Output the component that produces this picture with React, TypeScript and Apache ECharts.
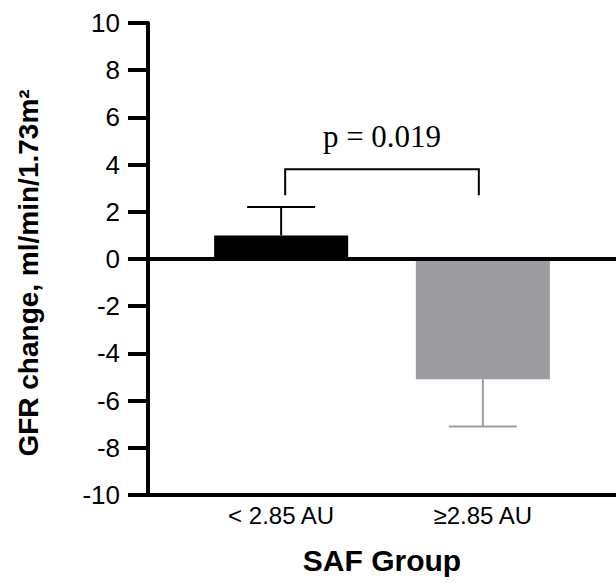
import React, { useEffect, useRef } from "react";
import * as echarts from "echarts";

const categories = ["< 2.85 AU", "≥2.85 AU"];
const means = [1.0, -5.1];
const errors = [1.2, 2.0];
const barColors = ["#000000", "#9d9ca1"];
const bracketX = [1.02, 1.98];
const bracketY = [2.7, 3.8];
const pLabel = "p = 0.019";
const pLabelY = 5.2;
const yTitle = "GFR change, ml/min/1.73m²";
const xTitle = "SAF Group";

export default function App() {
  const ref = useRef<HTMLDivElement>(null);
  useEffect(() => {
    const chart = echarts.init(ref.current!, null, { renderer: "svg" });
    const font = "'Liberation Sans', Arial, sans-serif";
    const option: any = {
      animation: false,
      backgroundColor: "#ffffff",
      grid: { left: 148, right: 0, top: 23, bottom: 88, containLabel: false },
      xAxis: {
        type: "value",
        min: 0.34,
        max: 2.66,
        name: xTitle,
        nameLocation: "middle",
        nameGap: 50,
        nameTextStyle: { fontFamily: font, fontSize: 30, fontWeight: "bold", color: "#000" },
        axisLine: { show: true, onZero: false, lineStyle: { color: "#000", width: 4 } },
        axisTick: { show: false },
        splitLine: { show: false },
        axisLabel: {
          customValues: [1, 2],
          formatter: (v: number) => categories[Math.round(v) - 1] ?? "",
          fontFamily: font,
          fontSize: 24,
          color: "#000",
          margin: 8,
        },
      },
      yAxis: {
        type: "value",
        min: -10,
        max: 10,
        interval: 2,
        name: yTitle,
        nameLocation: "middle",
        nameGap: 106,
        nameTextStyle: {
          fontFamily: font,
          fontSize: 28,
          fontWeight: "bold",
          color: "#000",
          padding: [0, 28, 0, 0],
        },
        axisLine: { show: true, onZero: false, lineStyle: { color: "#000", width: 4 } },
        axisTick: { show: true, inside: false, length: 20, lineStyle: { color: "#000", width: 4 } },
        splitLine: { show: false },
        axisLabel: { fontFamily: font, fontSize: 26, color: "#000", margin: 28 },
      },
      series: [
        {
          type: "bar",
          barWidth: 134,
          data: means.map((m, i) => ({ value: [i + 1, m], itemStyle: { color: barColors[i] } })),
          markLine: {
            silent: true,
            symbol: "none",
            label: { show: false },
            lineStyle: { color: "#000", width: 4, type: "solid" },
            data: [{ yAxis: 0 }],
          },
        },
        {
          type: "custom",
          data: means.map((m, i) => [i + 1, m, m + (m >= 0 ? errors[i] : -errors[i])]),
          renderItem: (params: any, api: any) => {
            const x = api.value(0);
            const p1 = api.coord([x, api.value(1)]);
            const p2 = api.coord([x, api.value(2)]);
            const color = barColors[params.dataIndex];
            const style = { stroke: color, lineWidth: 2 };
            return {
              type: "group",
              children: [
                { type: "line", shape: { x1: p1[0], y1: p1[1], x2: p2[0], y2: p2[1] }, style },
                { type: "line", shape: { x1: p2[0] - 34, y1: p2[1], x2: p2[0] + 34, y2: p2[1] }, style },
              ],
            };
          },
          z: 3,
        },
        {
          type: "custom",
          data: [[bracketX[0], bracketX[1], bracketY[0], bracketY[1], pLabelY]],
          renderItem: (params: any, api: any) => {
            const a = api.coord([api.value(0), api.value(2)]);
            const b = api.coord([api.value(0), api.value(3)]);
            const c = api.coord([api.value(1), api.value(3)]);
            const d = api.coord([api.value(1), api.value(2)]);
            const t = api.coord([(api.value(0) + api.value(1)) / 2, api.value(4)]);
            return {
              type: "group",
              children: [
                {
                  type: "polyline",
                  shape: { points: [a, b, c, d] },
                  style: { stroke: "#000", lineWidth: 2, fill: "none" },
                },
                {
                  type: "text",
                  x: t[0],
                  y: t[1],
                  style: {
                    text: pLabel,
                    fontFamily: "'Liberation Serif', 'Times New Roman', serif",
                    fontSize: 31,
                    fill: "#000",
                    align: "center",
                    verticalAlign: "middle",
                  },
                },
              ],
            };
          },
          z: 3,
        },
      ],
    };
    chart.setOption(option);
    return () => chart.dispose();
  }, []);
  return (
    <div
      ref={ref}
      style={{ position: "fixed", left: 0, top: 0, width: 616, height: 583, background: "#fff" }}
    />
  );
}
